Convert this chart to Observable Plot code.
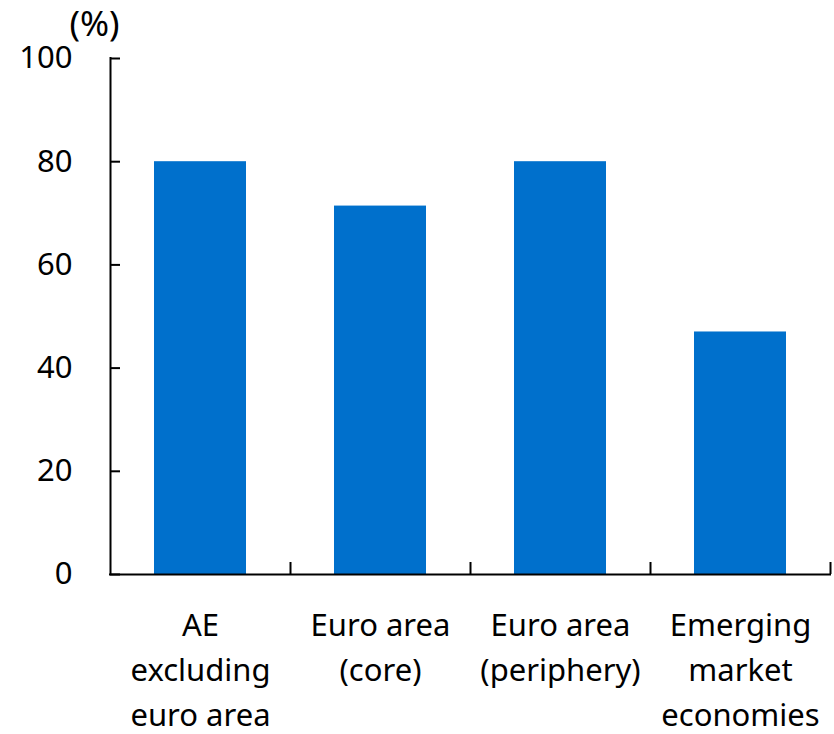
<!DOCTYPE html>
<html>
<head>
<meta charset="utf-8">
<script src="https://cdn.jsdelivr.net/npm/d3@7"></script>
<script src="https://cdn.jsdelivr.net/npm/@observablehq/plot@0.6"></script>
<style>
  html, body { margin: 0; padding: 0; background: #fff; }
  #chart svg { display: block; }
</style>
</head>
<body>
<div id="chart"></div>
<script>
// Share of each economy group, percent
const categories = [
  "AE\nexcluding\neuro area",
  "Euro area\n(core)",
  "Euro area\n(periphery)",
  "Emerging\nmarket\neconomies"
];
const values = [80, 71.4, 80, 47];
const yTicks = [0, 20, 40, 60, 80, 100];

const data = categories.map((c, i) => ({category: c, value: values[i]}));

const width = 834, height = 734;
const marginLeft = 110, marginRight = 4, marginTop = 58, marginBottom = 160;
const plotW = width - marginLeft - marginRight;
const plotH = height - marginTop - marginBottom;
const step = plotW / categories.length;

const chart = Plot.plot({
  width, height, marginLeft, marginRight, marginTop, marginBottom,
  style: {fontFamily: "'Noto Sans', sans-serif", fontSize: "31px", color: "#000", background: "#fff"},
  x: {domain: categories, paddingInner: 0.49, paddingOuter: 0.245},
  y: {domain: [0, 100]},
  marks: [
    Plot.barY(data, {x: "category", y: "value", fill: "#0070cc"}),
    // y axis labels
    Plot.axisY(yTicks, {tickSize: 0, tickPadding: 38, label: null, fontSize: 31}),
    // inward y ticks
    Plot.ruleY(yTicks, {insetRight: plotW - 10, stroke: "#000", strokeWidth: 2}),
    // y axis line
    Plot.ruleX([categories[0]], {dx: -step / 2, stroke: "#000", strokeWidth: 2, strokeLinecap: "square"}),
    // x axis line
    Plot.ruleY([0], {stroke: "#000", strokeWidth: 2, strokeLinecap: "square"}),
    // inward x ticks at band boundaries
    Plot.ruleX(categories, {dx: step / 2, insetTop: plotH - 12, stroke: "#000", strokeWidth: 2}),
    // category labels
    Plot.axisX({tickSize: 0, tickPadding: 30, label: null, lineHeight: 1.45, fontSize: 31}),
    // unit label
    Plot.text(["(%)"], {frameAnchor: "top-left", dx: -16, dy: -34, lineAnchor: "middle", textAnchor: "middle", fontSize: 35, fill: "#000"})
  ]
});
document.getElementById("chart").appendChild(chart);
</script>
</body>
</html>
